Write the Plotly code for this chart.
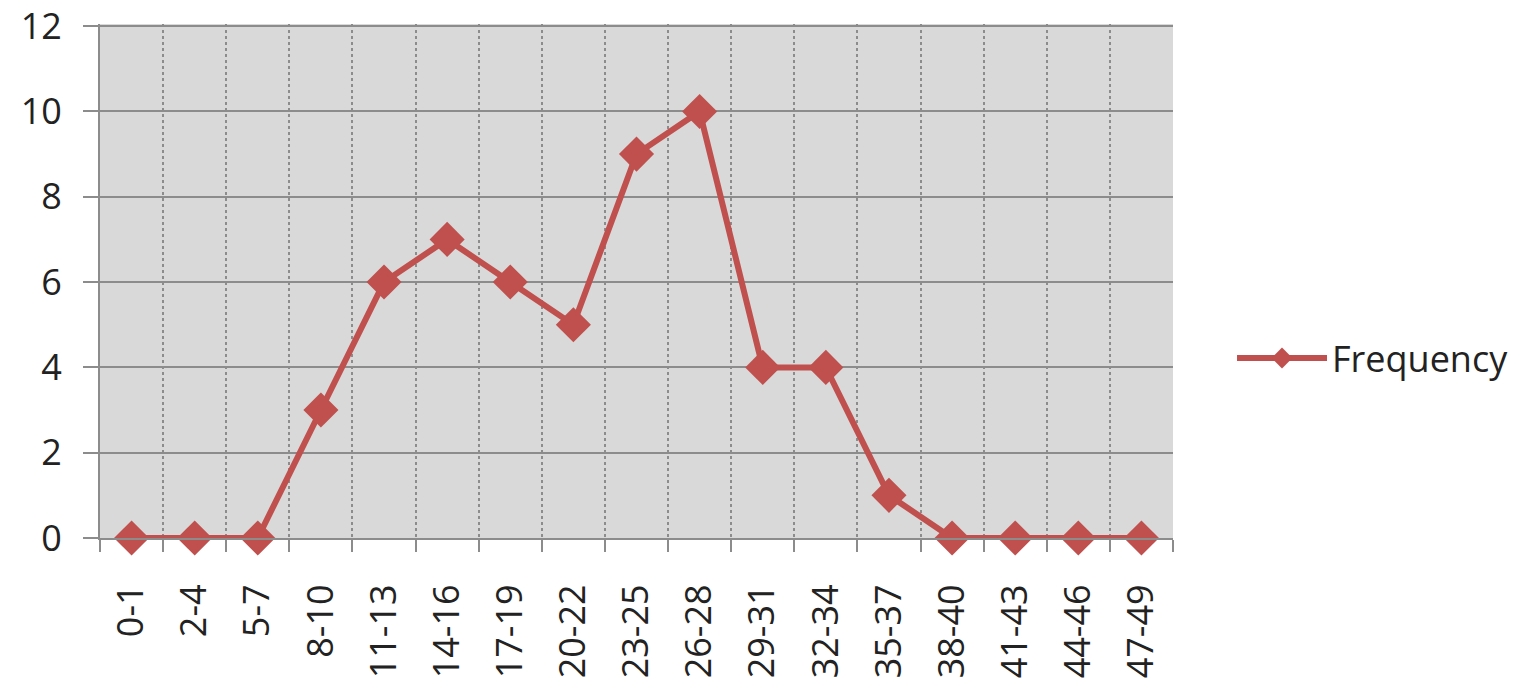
import plotly.graph_objects as go

categories = ["0-1", "2-4", "5-7", "8-10", "11-13", "14-16", "17-19", "20-22", "23-25",
              "26-28", "29-31", "32-34", "35-37", "38-40", "41-43", "44-46", "47-49"]
frequency = [0, 0, 0, 3, 6, 7, 6, 5, 9, 10, 4, 4, 1, 0, 0, 0, 0]
y_ticks = [0, 2, 4, 6, 8, 10, 12]

red = "#c0504d"
font_family = "Open Sans, Noto Sans, sans-serif"

fig = go.Figure()
fig.add_trace(go.Scatter(
    x=categories, y=frequency, mode="lines+markers", name="Frequency",
    line=dict(color=red, width=6),
    marker=dict(symbol="diamond", size=27, color=red),
    cliponaxis=False,
))

fig.update_layout(
    width=1539, height=697,
    margin=dict(l=100, r=366, t=24, b=159),
    paper_bgcolor="white", plot_bgcolor="#d9d9d9",
    font=dict(family=font_family, size=36, color="#222222"),
    showlegend=True,
    legend=dict(x=1.055, y=0.35, xanchor="left", yanchor="middle",
                itemwidth=90, font=dict(size=36, color="#222222"),
                bgcolor="rgba(0,0,0,0)"),
    xaxis=dict(
        type="category", tickson="boundaries", tickangle=-90,
        showgrid=True, gridcolor="#8c8c8c", griddash="dot", gridwidth=1.5,
        ticks="outside", ticklen=12, tickcolor="#8c8c8c", tickwidth=2,
        ticklabelstandoff=30, automargin=False,
        showline=True, linecolor="#8c8c8c", linewidth=2,
        range=[-0.5, 16.5],
    ),
    yaxis=dict(
        range=[0, 12.05], tickvals=y_ticks,
        showgrid=True, gridcolor="#8c8c8c", gridwidth=2,
        ticks="outside", ticklen=15, tickcolor="#8c8c8c", tickwidth=2,
        ticklabelstandoff=14, automargin=False, ticklabeloverflow="allow",
        showline=True, linecolor="#8c8c8c", linewidth=2,
        zeroline=False,
    ),
)

fig.write_html(
    "out.html",
    config={"displayModeBar": False},
    post_script="document.body.style.margin='0';",
)
